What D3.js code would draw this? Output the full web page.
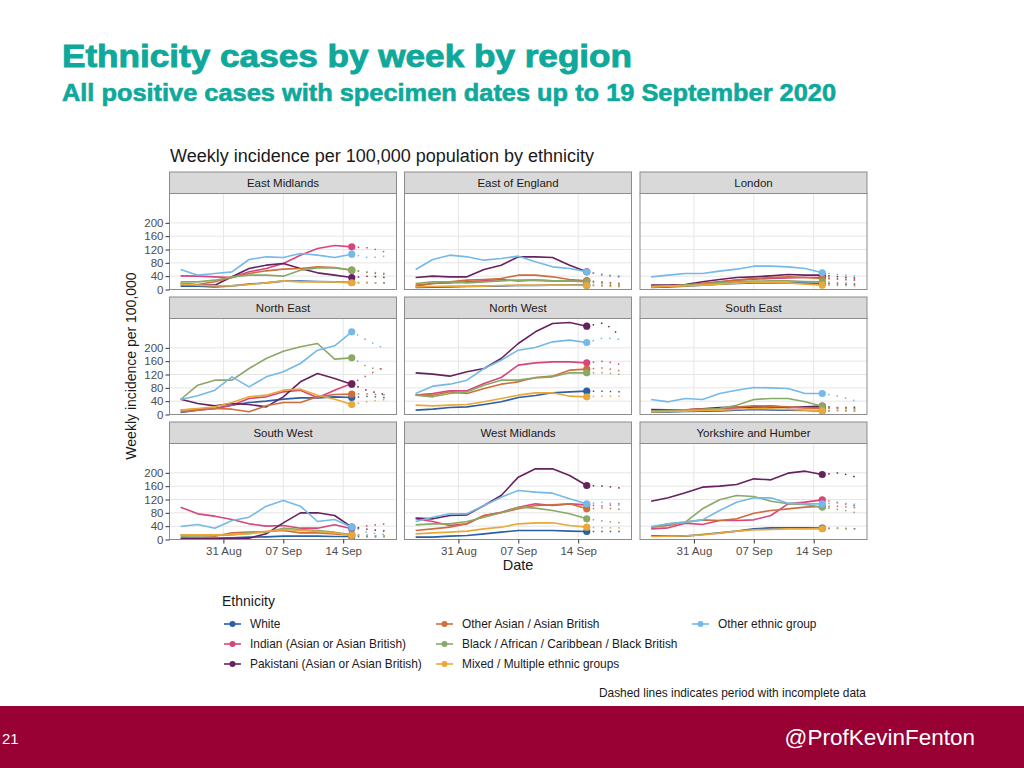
<!DOCTYPE html>
<html><head><meta charset="utf-8">
<script src="https://cdn.jsdelivr.net/npm/d3@7"></script>
<style>body{margin:0;background:#fff}svg{display:block;font-family:"Liberation Sans",Arial,sans-serif}</style>
</head><body><svg id="c" width="1024" height="768"></svg>
<script>
// ---------------- DATA ----------------
const regions = ["East Midlands","East of England","London","North East","North West","South East","South West","West Midlands","Yorkshire and Humber"];
const ethnicities = ["White","Indian (Asian or Asian British)","Pakistani (Asian or Asian British)","Other Asian / Asian British","Black / African / Caribbean / Black British","Mixed / Multiple ethnic groups","Other ethnic group"];
const colours = ["#2a5fa5","#d6457b","#66225e","#cf6e3c","#8aa866","#eaa73a","#74b9e7"];
const dates = ["2020-08-26","2020-08-28","2020-08-30","2020-09-01","2020-09-03","2020-09-05","2020-09-07","2020-09-09","2020-09-11","2020-09-13","2020-09-15"];
const tailDates = ["2020-09-17","2020-09-19"];
const xTickDates = ["2020-08-31","2020-09-07","2020-09-14"];
const yTicks = [0,40,80,120,160,200];

// each region: series in ethnicity order (White, Indian, Pakistani, Other Asian, Black, Mixed, Other)
const eastMidlands = [
  [10,10,8,11,16,20,25,25,24,23,21],
  [41,40,38,36,53,63,78,103,123,132,128],
  [18,13,13,38,63,73,78,63,50,43,36],
  [18,15,23,36,48,56,61,63,68,66,58],
  [23,23,28,38,43,43,40,58,65,65,58],
  [16,13,11,11,15,20,26,23,23,23,20],
  [60,43,48,53,90,98,96,108,103,96,106]];
const eastMidlandsTail = [[20,20],[125,112],[40,36],[50,45],[52,48],[22,18],[95,100]];

const eastOfEngland = [
  [6,7,8,9,10,11,12,12,13,13,13],
  [10,18,20,23,26,30,26,28,26,26,26],
  [36,40,38,38,60,73,98,98,96,73,53],
  [13,18,23,28,30,33,43,43,38,30,26],
  [18,23,23,20,23,26,28,28,26,26,23],
  [8,9,10,10,10,12,13,13,13,13,12],
  [60,90,103,98,88,93,100,83,68,63,53]];
const eastOfEnglandTail = [[12,10],[22,18],[43,38],[20,16],[18,14],[10,8],[45,40]];

const london = [
  [6,8,10,13,16,18,20,20,20,19,18],
  [10,11,13,18,23,28,31,33,35,36,36],
  [13,13,15,23,30,36,38,41,45,43,43],
  [10,11,13,18,23,28,33,36,38,36,33],
  [8,10,13,16,20,23,25,26,26,24,23],
  [8,10,11,13,16,19,22,21,20,16,13],
  [38,43,48,48,55,61,70,70,68,63,50]];
const londonTail = [[16,14],[32,28],[38,34],[30,28],[20,18],[12,10],[45,40]];

const northEast = [
  [6,13,18,28,36,40,46,50,50,53,51],
  [13,16,18,28,48,53,68,73,50,73,93],
  [46,33,26,33,30,23,53,98,123,108,91],
  [8,13,18,16,8,26,36,36,53,60,61],
  [45,88,103,103,138,168,190,203,213,166,170],
  [13,18,23,36,53,58,73,76,58,46,30],
  [45,56,73,113,83,113,128,153,193,206,248]];
const northEastTail = [[55,50],[120,145],[70,60],[62,58],[140,135],[40,45],[220,195]];

const northWest = [
  [13,16,21,23,30,38,51,57,65,68,70],
  [58,63,71,71,93,111,148,155,158,158,155],
  [125,121,115,128,138,168,213,248,273,276,265],
  [58,58,68,63,78,91,98,111,115,133,136],
  [58,53,63,68,88,103,103,110,113,125,125],
  [28,26,28,30,38,48,58,65,65,55,53],
  [63,85,91,103,138,163,193,201,218,223,216]];
const northWestTail = [[70,68],[160,150],[275,235],[140,130],[125,120],[55,55],[230,225]];

const southEast = [
  [7,8,9,10,11,13,15,14,13,12,11],
  [11,12,14,16,18,20,23,22,21,21,21],
  [15,14,13,17,21,22,23,25,21,23,25],
  [10,12,14,16,18,22,26,25,23,20,18],
  [11,12,13,15,18,28,45,48,48,38,25],
  [8,9,10,12,13,15,18,17,15,13,11],
  [45,38,48,45,63,73,81,80,78,63,63]];
const southEastTail = [[12,10],[20,18],[20,22],[18,16],[20,18],[12,10],[55,40]];

const southWest = [
  [4,4,4,5,7,8,10,10,10,9,9],
  [97,77,70,60,47,40,42,34,34,44,32],
  [2,2,2,3,4,17,50,80,80,72,37],
  [14,12,10,20,22,24,27,20,20,17,14],
  [10,11,12,14,20,22,34,30,27,22,14],
  [14,14,14,15,17,24,30,27,24,20,12],
  [39,45,34,57,67,100,117,100,54,60,37]];
const southWestTail = [[8,8],[42,47],[30,25],[12,10],[12,10],[12,10],[20,15]];

const westMidlands = [
  [7,7,10,12,17,22,27,27,27,25,24],
  [62,54,42,47,72,82,97,107,102,107,104],
  [64,62,72,74,102,132,187,212,212,192,162],
  [27,32,37,47,72,80,92,102,104,107,92],
  [44,47,47,54,67,80,97,94,87,77,62],
  [17,20,22,25,32,37,47,50,50,42,37],
  [54,67,77,77,102,127,147,142,139,122,107]];
const westMidlandsTail = [[24,24],[100,108],[160,154],[95,90],[55,50],[35,35],[112,102]];

const yorkshire = [
  [11,11,10,15,20,25,32,35,35,35,34],
  [32,35,49,45,57,57,59,72,107,112,119],
  [115,125,140,157,160,165,182,179,199,205,195],
  [37,42,52,59,57,62,79,87,92,97,99],
  [35,47,52,92,119,132,129,115,107,105,97],
  [9,10,11,14,19,25,29,30,32,32,32],
  [39,47,52,59,87,112,125,125,109,107,107]];
const yorkshireTail = [[34,32],[110,100],[200,187],[100,95],[90,80],[33,30],[110,105]];

const regionSeries = [eastMidlands,eastOfEngland,london,northEast,northWest,southEast,southWest,westMidlands,yorkshire];
const regionTails = [eastMidlandsTail,eastOfEnglandTail,londonTail,northEastTail,northWestTail,southEastTail,southWestTail,westMidlandsTail,yorkshireTail];

// ---------------- DRAW ----------------
const svg = d3.select("#c");
svg.append("rect").attr("width",1024).attr("height",768).attr("fill","#fff");

const teal = "#0fa89b";
svg.append("text").attr("x",62).attr("y",67).attr("font-size",32).attr("font-weight","bold")
  .attr("fill",teal).attr("textLength",570).attr("lengthAdjust","spacingAndGlyphs")
  .attr("stroke",teal).attr("stroke-width",0.9)
  .text("Ethnicity cases by week by region");
svg.append("text").attr("x",62).attr("y",101).attr("font-size",23).attr("font-weight","bold")
  .attr("fill",teal).attr("textLength",774).attr("lengthAdjust","spacingAndGlyphs")
  .attr("stroke",teal).attr("stroke-width",0.6)
  .text("All positive cases with specimen dates up to 19 September 2020");

svg.append("text").attr("x",170).attr("y",162).attr("font-size",18).attr("fill","#1a1a1a")
  .text("Weekly incidence per 100,000 population by ethnicity");

const parse = d3.utcParse("%Y-%m-%d");
const DAY = 864e5;
const xStart = new Date(parse("2020-08-31").getTime() - 6.3*DAY);
const xEnd = new Date(xStart.getTime() + 26.53*DAY);
const colLeft = [169.5,404.5,640], pw = 227, stripTop = [172,297,422], sh = 21.5, ph = 96;
const border = "#8c8c8c", grid = "#e6e6e6";
const fmt = d3.utcFormat("%d %b");

regions.forEach((name,i)=>{
  const col = i%3, row = Math.floor(i/3);
  const left = colLeft[col], top = stripTop[row]+sh, bottom = top+ph;
  const x = d3.scaleUtc().domain([xStart,xEnd]).range([left,left+pw]);
  const y = d3.scaleLinear().domain([0,288]).range([bottom,top]);
  const g = svg.append("g");
  g.append("rect").attr("x",left).attr("y",stripTop[row]).attr("width",pw).attr("height",sh)
    .attr("fill","#d9d9d9").attr("stroke",border).attr("stroke-width",1);
  g.append("text").attr("x",left+pw/2).attr("y",stripTop[row]+sh/2+4).attr("text-anchor","middle")
    .attr("font-size",11.5).attr("fill","#1a1a1a").text(name);
  g.append("rect").attr("x",left).attr("y",top).attr("width",pw).attr("height",ph).attr("fill","#fff");
  g.selectAll(".gy").data(yTicks).join("line").attr("x1",left).attr("x2",left+pw)
    .attr("y1",d=>y(d)).attr("y2",d=>y(d)).attr("stroke",grid).attr("stroke-width",1);
  g.selectAll(".gx").data(xTickDates).join("line").attr("y1",top).attr("y2",bottom)
    .attr("x1",d=>x(parse(d))).attr("x2",d=>x(parse(d))).attr("stroke",grid).attr("stroke-width",1);

  const series = regionSeries[i], tails = regionTails[i];
  const line = d3.line().x(d=>x(d[0])).y(d=>y(d[1]));
  series.forEach((vals,k)=>{
    const pts = dates.map((d,j)=>[parse(d),vals[j]]);
    const last = pts[pts.length-1];
    const tailPts = [last].concat(tailDates.map((d,j)=>[parse(d),tails[k][j]]));
    g.append("path").attr("d",line(tailPts)).attr("fill","none").attr("stroke",colours[k])
      .attr("stroke-width",1.5).attr("stroke-dasharray","1.5,7").attr("stroke-dashoffset",-6);
    g.append("path").attr("d",line(pts)).attr("fill","none").attr("stroke",colours[k])
      .attr("stroke-width",1.6).attr("stroke-linejoin","round");
    g.append("circle").attr("cx",x(last[0])).attr("cy",y(last[1])).attr("r",3.6).attr("fill",colours[k]);
  });
  g.append("rect").attr("x",left).attr("y",top).attr("width",pw).attr("height",ph)
    .attr("fill","none").attr("stroke",border).attr("stroke-width",1);

  if(col===0){
    const ax = g.append("g").attr("transform",`translate(${left},0)`)
      .call(d3.axisLeft(y).tickValues(yTicks).tickSize(4).tickPadding(2));
    ax.select(".domain").remove();
    ax.selectAll("line").attr("stroke","#333");
    ax.selectAll("text").attr("font-size",11.5).attr("fill","#4d4d4d").attr("font-family","Liberation Sans, Arial, sans-serif");
  }
  if(row===2){
    const ax = g.append("g").attr("transform",`translate(0,${bottom})`)
      .call(d3.axisBottom(x).tickValues(xTickDates.map(parse)).tickFormat(fmt).tickSize(4).tickPadding(3));
    ax.select(".domain").remove();
    ax.selectAll("line").attr("stroke","#333");
    ax.selectAll("text").attr("font-size",11.5).attr("fill","#4d4d4d").attr("font-family","Liberation Sans, Arial, sans-serif");
  }
});

svg.append("text").attr("x",518).attr("y",570).attr("text-anchor","middle").attr("font-size",14.5)
  .attr("fill","#1a1a1a").text("Date");
svg.append("text").attr("transform","translate(136,366) rotate(-90)").attr("text-anchor","middle")
  .attr("font-size",14).attr("fill","#1a1a1a").text("Weekly incidence per 100,000");

// legend
svg.append("text").attr("x",222).attr("y",606).attr("font-size",14).attr("fill","#1a1a1a").text("Ethnicity");
const legCols = [224,436,692], legRows = [624,644,664];
ethnicities.forEach((e,k)=>{
  const c = Math.floor(k/3), r = k%3;
  const lx = legCols[c], ly = legRows[r];
  svg.append("line").attr("x1",lx).attr("x2",lx+17).attr("y1",ly).attr("y2",ly)
    .attr("stroke",colours[k]).attr("stroke-width",1.6);
  svg.append("circle").attr("cx",lx+8.5).attr("cy",ly).attr("r",3).attr("fill",colours[k]);
  svg.append("text").attr("x",lx+26).attr("y",ly+4).attr("font-size",11.9).attr("fill","#1a1a1a").text(e);
});
svg.append("text").attr("x",866).attr("y",697).attr("text-anchor","end").attr("font-size",11.9)
  .attr("fill","#1a1a1a").text("Dashed lines indicates period with incomplete data");

// footer band
svg.append("rect").attr("x",0).attr("y",706).attr("width",1024).attr("height",62).attr("fill","#990033");
svg.append("text").attr("x",2).attr("y",744).attr("font-size",15).attr("fill","#fff").text("21");
svg.append("text").attr("x",975).attr("y",745).attr("text-anchor","end").attr("font-size",22.5)
  .attr("fill","#fff").text("@ProfKevinFenton");
</script></body></html>
